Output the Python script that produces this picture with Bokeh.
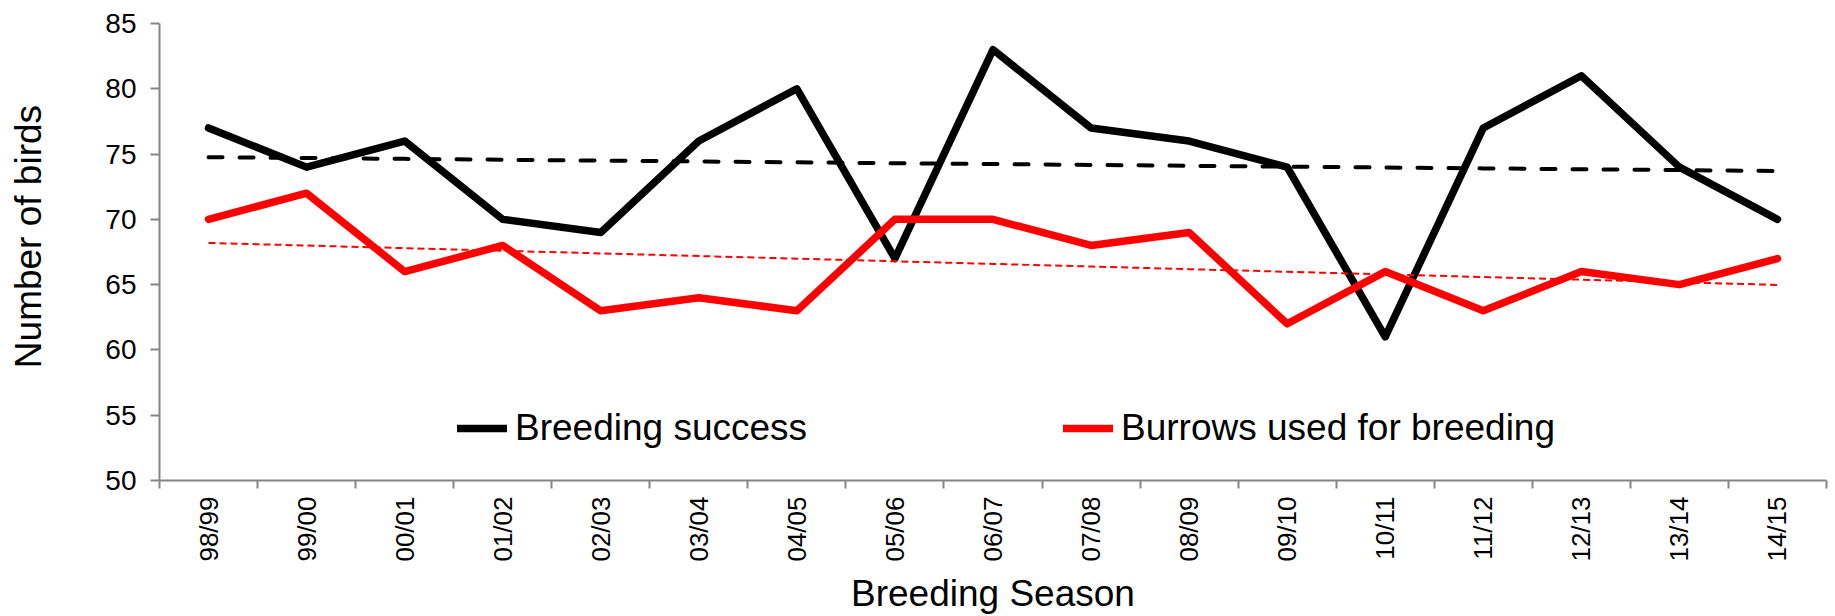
import math
import numpy as np
from bokeh.plotting import figure
from bokeh.models import FixedTicker, Legend, LegendItem, Range1d
from bokeh.embed import file_html
from bokeh.resources import INLINE

seasons = ["98/99", "99/00", "00/01", "01/02", "02/03", "03/04", "04/05", "05/06",
           "06/07", "07/08", "08/09", "09/10", "10/11", "11/12", "12/13", "13/14", "14/15"]
breeding_success = [77, 74, 76, 70, 69, 76, 80, 67, 83, 77, 76, 74, 61, 77, 81, 74, 70]
burrows_used = [70, 72, 66, 68, 63, 64, 63, 70, 70, 68, 69, 62, 66, 63, 66, 65, 67]
y_ticks = [50, 55, 60, 65, 70, 75, 80, 85]

FONT = "Liberation Sans"
AXIS_GREY = "#868686"

x = list(range(len(seasons)))
# Linear (least squares) trendlines, as in the spreadsheet chart
bs_trend = np.polyval(np.polyfit(x, breeding_success, 1), x)
bu_trend = np.polyval(np.polyfit(x, burrows_used, 1), x)

p = figure(width=1835, height=616, output_backend="svg", toolbar_location=None,
           x_range=Range1d(-0.5, len(seasons) - 0.5), y_range=Range1d(50, 85),
           min_border_left=159, min_border_right=9, min_border_top=23, min_border_bottom=136)
p.outline_line_color = None
p.xgrid.visible = False
p.ygrid.visible = False
p.background_fill_color = "white"
p.border_fill_color = "white"

r_bs = p.line(x, breeding_success, line_color="black", line_width=7.5,
              line_join="round", line_cap="round")
r_bu = p.line(x, burrows_used, line_color="#FF0000", line_width=7.5,
              line_join="round", line_cap="round")
p.line(x, bs_trend, line_color="black", line_width=4, line_dash="14 17", line_cap="round")
p.line(x, bu_trend, line_color="#FF0000", line_width=2, line_dash="7 4")

# x axis
xa = p.xaxis[0]
xa.ticker = FixedTicker(ticks=x, minor_ticks=[i - 0.5 for i in range(len(seasons) + 1)])
xa.major_label_overrides = {i: s for i, s in enumerate(seasons)}
xa.major_label_orientation = math.pi / 2
xa.major_tick_out = 0
xa.major_tick_in = 0
xa.minor_tick_out = 8
xa.minor_tick_in = 0
xa.minor_tick_line_color = AXIS_GREY
xa.minor_tick_line_width = 2
xa.axis_line_color = AXIS_GREY
xa.axis_line_width = 2
xa.major_label_text_font = FONT
xa.major_label_text_font_size = "26px"
xa.major_label_text_color = "black"
xa.major_label_standoff = 8
xa.axis_label = "Breeding Season"
xa.axis_label_text_font = FONT
xa.axis_label_text_font_size = "37px"
xa.axis_label_text_font_style = "normal"
xa.axis_label_text_color = "black"
xa.axis_label_standoff = 8

# y axis
ya = p.yaxis[0]
ya.ticker = FixedTicker(ticks=y_ticks)
ya.major_tick_out = 9
ya.major_tick_in = 0
ya.minor_tick_out = 0
ya.minor_tick_in = 0
ya.major_tick_line_color = AXIS_GREY
ya.major_tick_line_width = 2
ya.axis_line_color = AXIS_GREY
ya.axis_line_width = 2
ya.major_label_text_font = FONT
ya.major_label_text_font_size = "28px"
ya.major_label_text_color = "black"
ya.major_label_standoff = 14
ya.axis_label = "\u00a0\u00a0\u00a0Number of birds"
ya.axis_label_text_font = FONT
ya.axis_label_text_font_size = "37px"
ya.axis_label_text_font_style = "normal"
ya.axis_label_text_color = "black"
ya.axis_label_standoff = 53

legend = Legend(items=[LegendItem(label="Breeding success", renderers=[r_bs]),
                       LegendItem(label="Burrows used for breeding", renderers=[r_bu])],
                orientation="horizontal", location=(298, 31),
                glyph_width=50, glyph_height=20, label_standoff=8, spacing=256,
                padding=0, margin=0, border_line_color=None, background_fill_alpha=0,
                label_text_font=FONT, label_text_font_size="37px", label_text_color="black")
p.add_layout(legend, "center")

open("out.html", "w").write(file_html(p, INLINE))
